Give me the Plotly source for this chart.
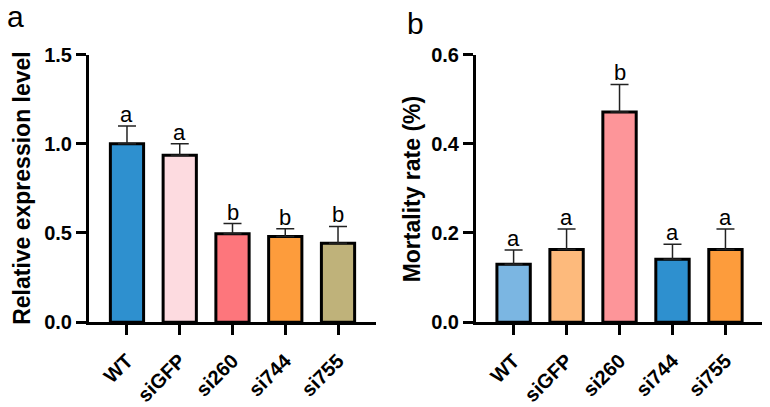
import plotly.graph_objects as go

categories = ["WT", "siGFP", "si260", "si744", "si755"]

# Panel a: relative expression level
expr_mean = [1.00, 0.935, 0.495, 0.480, 0.443]
expr_top = [1.10, 1.00, 0.553, 0.523, 0.537]
expr_letters = ["a", "a", "b", "b", "b"]
expr_colors = ["#2E90CF", "#FDDBE0", "#FD767C", "#FD9C3C", "#BFB27A"]

# Panel b: mortality rate
mort_mean = [0.130, 0.163, 0.471, 0.141, 0.163]
mort_top = [0.162, 0.209, 0.533, 0.175, 0.209]
mort_letters = ["a", "a", "b", "a", "a"]
mort_colors = ["#7BB6E2", "#FDBA7C", "#FD9599", "#2E90CF", "#FD9C3C"]

W, H = 770, 407
FONT = "Liberation Sans, Arial, sans-serif"

fig = go.Figure()


def add_panel(means, tops, colors, xa, ya):
    fig.add_trace(go.Bar(
        x=categories, y=means, xaxis=xa, yaxis=ya, width=0.63,
        marker=dict(color=colors, line=dict(color="black", width=3)),
        error_y=dict(type="data", symmetric=False,
                     array=[t - m for t, m in zip(tops, means)],
                     arrayminus=[0] * len(means),
                     thickness=1.5, width=9, color="#222222"),
        showlegend=False,
    ))


add_panel(expr_mean, expr_top, expr_colors, "x", "y")
add_panel(mort_mean, mort_top, mort_colors, "x2", "y2")

ydom = [1 - 329 / H, 1 - 46 / H]


def axis_style():
    return dict(showline=True, linecolor="black", linewidth=3,
                ticks="outside", ticklen=10, tickwidth=3, tickcolor="black",
                showgrid=False, zeroline=False,
                tickfont=dict(family=FONT, size=20, color="black", weight="bold"))


fig.update_layout(
    width=W, height=H, margin=dict(l=0, r=0, t=0, b=0),
    plot_bgcolor="white", paper_bgcolor="white",
    xaxis=dict(domain=[89 / W, 376 / W], range=[-0.72, 4.72], anchor="y",
               tickangle=-45, ticklabelstandoff=6, **axis_style()),
    yaxis=dict(domain=ydom, range=[0, 1.5], anchor="x",
               tickvals=[0, 0.5, 1.0, 1.5], tickformat=".1f", **axis_style()),
    xaxis2=dict(domain=[476 / W, 762 / W], range=[-0.71, 4.69], anchor="y2",
                tickangle=-45, ticklabelstandoff=6, **axis_style()),
    yaxis2=dict(domain=ydom, range=[0, 0.6], anchor="x2",
                tickvals=[0, 0.2, 0.4, 0.6], tickformat=".1f", **axis_style()),
)

annotations = []
for cat, t, l in zip(categories, expr_top, expr_letters):
    annotations.append(dict(x=cat, y=t, xref="x", yref="y", text=l, showarrow=False,
                            yanchor="bottom", yshift=-3,
                            font=dict(family=FONT, size=22, color="black")))
for cat, t, l in zip(categories, mort_top, mort_letters):
    annotations.append(dict(x=cat, y=t, xref="x2", yref="y2", text=l, showarrow=False,
                            yanchor="bottom", yshift=-3,
                            font=dict(family=FONT, size=22, color="black")))

ymid = (ydom[0] + ydom[1]) / 2
annotations += [
    dict(x=22.5 / W, y=ymid, xref="paper", yref="paper", text="Relative expression level",
         textangle=-90, showarrow=False, xanchor="center", yanchor="middle",
         font=dict(family=FONT, size=23, color="black", weight="bold")),
    dict(x=412 / W, y=ymid, xref="paper", yref="paper", text="Mortality rate (%)",
         textangle=-90, showarrow=False, xanchor="center", yanchor="middle",
         font=dict(family=FONT, size=23, color="black", weight="bold")),
    dict(x=5 / W, y=1.0, xref="paper", yref="paper", text="a", showarrow=False,
         xanchor="left", yanchor="top", yshift=13,
         font=dict(family=FONT, size=30, color="black")),
    dict(x=405 / W, y=1.0, xref="paper", yref="paper", text="b", showarrow=False,
         xanchor="left", yanchor="top", yshift=6,
         font=dict(family=FONT, size=30, color="black")),
]
fig.update_layout(annotations=annotations)

fig.write_html("out.html")
